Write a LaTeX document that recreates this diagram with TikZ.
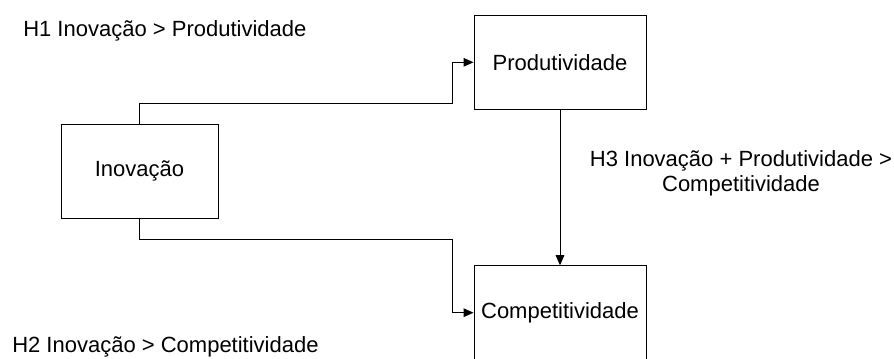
\documentclass[tikz,border=0pt]{standalone}
\usepackage{fontspec}
\setmainfont{Liberation Sans}
\usetikzlibrary{arrows.meta}
\begin{document}
\begin{tikzpicture}[x=0.75pt,y=-0.75pt,
  every node/.style={font=\fontsize{16.5}{18.75}\selectfont, text=black},
  box/.style={draw=black, line width=0.75pt, inner sep=0pt, minimum height=70.5pt},
  widebox/.style={box, minimum width=129pt},
  narrowbox/.style={box, minimum width=117.75pt},
  conn/.style={draw=black, line width=0.75pt, -{Triangle[length=7.5pt,width=6.5pt]}},
  lbl/.style={inner sep=0pt}]
\useasboundingbox (0,0) rectangle (894,358);
\clip (0,0) rectangle (894,358);
\node[widebox] (prod) at (560,62.3) {Produtividade};
\node[narrowbox] (inov) at (139.5,171.2) {Inovação};
\node[widebox] (comp) at (560,312.7) {Competitividade};
\coordinate (a1) at (452,103);
\coordinate (b1) at (452,239);
\draw[conn] (inov.north) |- (a1) |- (prod.west);
\draw[conn] (inov.south) |- (b1) |- (comp.west);
\draw[conn] (prod.south) -- (comp.north);
\node[lbl, anchor=base west] (h1) at (23,36) {H1 Inovação > Produtividade};
\node[lbl, anchor=base west] (h2) at (12,352) {H2 Inovação > Competitividade};
\node[lbl, anchor=base, align=center] (h3) at (741,191.7) {H3 Inovação + Produtividade >\\Competitividade};
\end{tikzpicture}
\end{document}
